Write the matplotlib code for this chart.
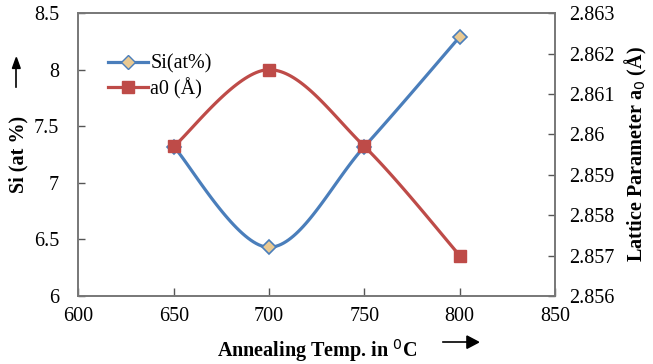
import numpy as np
import matplotlib.pyplot as plt

temp = [650, 700, 750, 800]
si_at = [7.32, 6.43, 7.32, 8.29]
a0 = [2.8597, 2.8616, 2.8597, 2.8570]


def smooth(x, y, n=40):
    # Catmull-Rom style curve through the points (like Excel's smoothed line)
    x = np.asarray(x, float)
    y = np.asarray(y, float)
    px = np.concatenate([[x[0]], x, [x[-1]]])
    py = np.concatenate([[y[0]], y, [y[-1]]])
    xs, ys = [], []
    for i in range(1, len(px) - 2):
        p0 = np.array([px[i], py[i]])
        p3 = np.array([px[i + 1], py[i + 1]])
        c1 = p0 + (np.array([px[i + 1], py[i + 1]]) - np.array([px[i - 1], py[i - 1]])) / 6
        c2 = p3 - (np.array([px[i + 2], py[i + 2]]) - np.array([px[i], py[i]])) / 6
        t = np.linspace(0, 1, n)[:, None]
        b = (1 - t) ** 3 * p0 + 3 * (1 - t) ** 2 * t * c1 + 3 * (1 - t) * t ** 2 * c2 + t ** 3 * p3
        xs.extend(b[:, 0])
        ys.extend(b[:, 1])
    return np.array(xs), np.array(ys)


plt.rcParams['font.family'] = 'Liberation Serif'

blue = '#4A7EBB'
red = '#BE4B48'

fig = plt.figure(figsize=(6.53, 3.64), dpi=100)
ax = fig.add_axes([0.120, 0.187, 0.730, 0.777])
ax2 = ax.twinx()

sx, sy = smooth(temp, si_at)
ax.plot(sx, sy, color=blue, lw=2.3, zorder=2)
ax.plot(temp, si_at, ls='none', marker='D', ms=7, mfc='#E9C992', mec=blue, mew=1.2, zorder=3)

rx, ry = smooth(temp, a0)
ax2.plot(rx, ry, color=red, lw=2.3)
ax2.plot(temp, a0, ls='none', marker='s', ms=9, mfc=red, mec=red)

ax.set_xlim(600, 850)
ax.set_ylim(6, 8.5)
ax2.set_ylim(2.856, 2.863)
ax.set_xticks([600, 650, 700, 750, 800, 850])
ax.set_yticks([6, 6.5, 7, 7.5, 8, 8.5])
ax.set_yticklabels(['6', '6.5', '7', '7.5', '8', '8.5'])
ax2.set_yticks([2.856, 2.857, 2.858, 2.859, 2.86, 2.861, 2.862, 2.863])
ax2.set_yticklabels(['2.856', '2.857', '2.858', '2.859', '2.86', '2.861', '2.862', '2.863'])

for a in (ax, ax2):
    a.tick_params(direction='in', length=5, width=1, colors='#555555', labelcolor='black', labelsize=14.5)
    for s in a.spines.values():
        s.set_color('#777777')
        s.set_linewidth(1.2)
ax.tick_params(axis='x', length=6, pad=8)
ax.tick_params(axis='y', pad=14)
ax2.tick_params(axis='y', pad=10)

ax.set_ylabel('Si (at %)', fontsize=14.5, fontweight='bold', labelpad=4)
ax.set_xlabel('Annealing Temp. in $^{0}$C', fontsize=14.5, fontweight='bold', labelpad=8)
ax2.set_ylabel('Lattice Parameter a$_0$ (Å)', fontsize=14.5, fontweight='bold', labelpad=6)

# arrows beside the axis titles
fig.add_artist(plt.Line2D([0.025, 0.025], [0.76, 0.815], color='black', lw=1.2))
fig.patches.append(plt.Polygon([[0.019, 0.812], [0.031, 0.812], [0.025, 0.842]], closed=True,
                               color='black', transform=fig.transFigure, figure=fig))
fig.add_artist(plt.Line2D([0.678, 0.72], [0.06, 0.06], color='black', lw=1.2))
fig.patches.append(plt.Polygon([[0.715, 0.043], [0.715, 0.077], [0.733, 0.06]], closed=True,
                               color='black', transform=fig.transFigure, figure=fig))

h1 = plt.Line2D([], [], color=blue, lw=2.3, marker='D', ms=7, mfc='#E9C992', mec=blue)
h2 = plt.Line2D([], [], color=red, lw=2.3, marker='s', ms=9, mfc=red, mec=red)
ax2.legend([h1, h2], ['Si(at%)', 'a0 (Å)'], loc='upper left', bbox_to_anchor=(0.045, 0.882),
           frameon=False, fontsize=14.5, handlelength=2.0, handletextpad=0.1,
           labelspacing=0.2, borderaxespad=0)

fig.savefig('out.png', dpi=100)
